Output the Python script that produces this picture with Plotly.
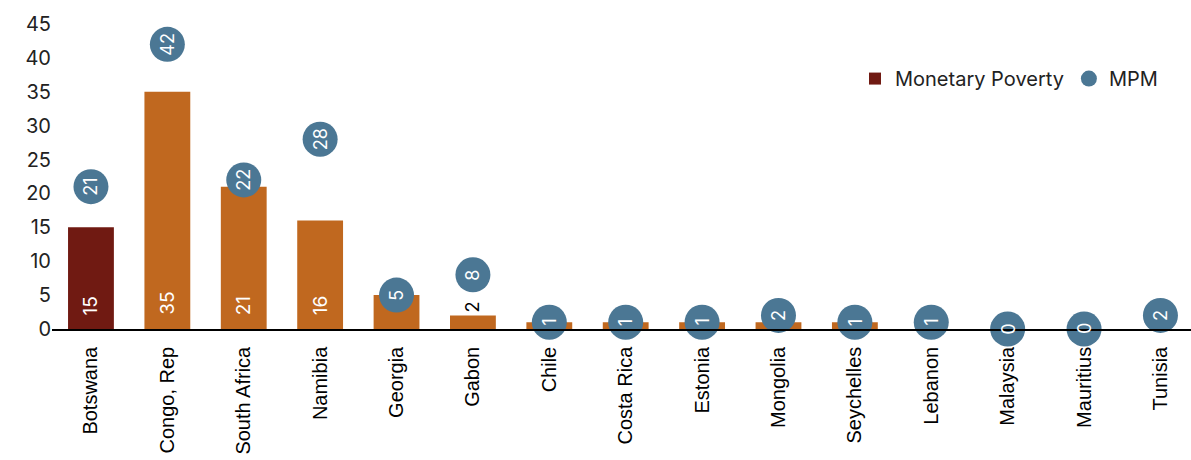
import plotly.graph_objects as go

countries = ["Botswana", "Congo, Rep", "South Africa", "Namibia", "Georgia", "Gabon",
             "Chile", "Costa Rica", "Estonia", "Mongolia", "Seychelles", "Lebanon",
             "Malaysia", "Mauritius", "Tunisia"]
monetary = [15, 35, 21, 16, 5, 2, 1, 1, 1, 1, 1, 0, 0, 0, 0]
mpm = [21, 42, 22, 28, 5, 8, 1, 1, 1, 2, 1, 1, 0, 0, 2]
y_ticks = [0, 5, 10, 15, 20, 25, 30, 35, 40, 45]

RED = "#701A12"
ORANGE = "#C0681F"
BLUE = "#4B7794"
NUM_FONT = "Inter"

bar_colors = [RED] + [ORANGE] * (len(countries) - 1)
# small bars: value printed above the bar unless the MPM marker covers it
bar_text = ["" if (v >= 10 or abs(m - v) < 3) else str(v) for v, m in zip(monetary, mpm)]

fig = go.Figure()
fig.add_trace(go.Bar(
    x=countries, y=monetary, name="Monetary Poverty",
    marker=dict(color=bar_colors, line=dict(width=0)),
    text=bar_text, textposition="outside", textangle=-90,
    outsidetextfont=dict(color="black", size=18, family=NUM_FONT),
    cliponaxis=False, width=0.6,
))
fig.add_trace(go.Scatter(
    x=countries, y=mpm, name="MPM", mode="markers",
    marker=dict(color=BLUE, size=35, line=dict(width=0)),
    cliponaxis=False,
))
for c, v in zip(countries, monetary):
    if v >= 10:
        fig.add_annotation(x=c, y=0, text=str(v), showarrow=False, textangle=-90,
                           yanchor="bottom", yshift=12,
                           font=dict(color="white", size=19, family=NUM_FONT))
for c, v in zip(countries, mpm):
    fig.add_annotation(x=c, y=v, text=str(v), showarrow=False, textangle=-90,
                       font=dict(color="white", size=18, family=NUM_FONT))

fig.update_layout(
    width=1191, height=460,
    margin=dict(l=52, r=0, t=24, b=131),
    plot_bgcolor="white", paper_bgcolor="white",
    showlegend=True,
    legend=dict(orientation="h", x=0.705, y=0.885, xanchor="left", yanchor="top",
                font=dict(size=20, family=NUM_FONT, color="#222"),
                itemwidth=30, traceorder="normal", bgcolor="rgba(0,0,0,0)"),
    xaxis=dict(range=[-0.51, 14.4], tickangle=-90, showgrid=False, showline=True,
               linecolor="black", linewidth=1.5, ticks="", ticklabelstandoff=8,
               tickfont=dict(family="Liberation Sans", size=20, color="black")),
    yaxis=dict(range=[0, 45], tickvals=y_ticks, showgrid=False, zeroline=False,
               showline=False, ticks="", tickfont=dict(family=NUM_FONT, size=20, color="#222")),
)
fig.write_html("out.html")
